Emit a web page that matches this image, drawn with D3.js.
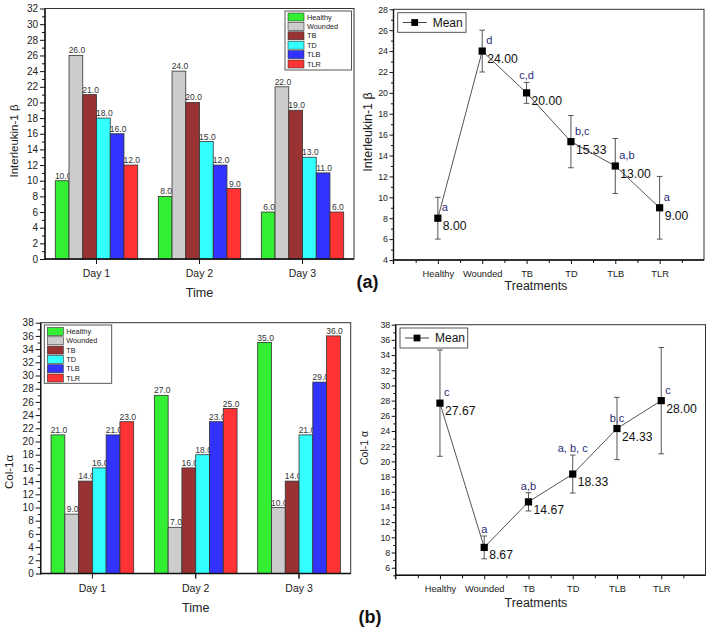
<!DOCTYPE html>
<html><head><meta charset="utf-8">
<script src="https://cdn.jsdelivr.net/npm/d3@7"></script>
<style>
body{margin:0;background:#fff}
svg{display:block}
text{font-family:"Liberation Sans",Arial,sans-serif}
</style></head><body>
<svg id="c" width="708" height="628"></svg>
<script>
// ---------- data ----------
const days = ["Day 1", "Day 2", "Day 3"];
const groupNames = ["Healthy", "Wounded", "TB", "TD", "TLB", "TLR"];
const groupColors = ["#33ee33", "#cccccc", "#993333", "#33ffff", "#3333ff", "#ff3333"];

const ilHealthy = [10, 8, 6];
const ilWounded = [26, 24, 22];
const ilTB = [21, 20, 19];
const ilTD = [18, 15, 13];
const ilTLB = [16, 12, 11];
const ilTLR = [12, 9, 6];

const colHealthy = [21, 27, 35];
const colWounded = [9, 7, 10];
const colTB = [14, 16, 14];
const colTD = [16, 18, 21];
const colTLB = [21, 23, 29];
const colTLR = [23, 25, 36];

const treatments = ["Healthy", "Wounded", "TB", "TD", "TLB", "TLR"];
const ilMean = [8.00, 24.00, 20.00, 15.33, 13.00, 9.00];
const ilErr = [2, 2, 1, 2.5, 2.63, 3];
const ilLetters = ["a", "d", "c,d", "b,c", "a,b", "a"];
const ilLetterPlace = ["side", "side", "top", "side", "side", "side"];

const colMean = [27.67, 8.67, 14.67, 18.33, 24.33, 28.00];
const colErr = [7, 1.5, 1.2, 2.5, 4.1, 7];
const colLetters = ["c", "a", "a,b", "a, b, c", "b,c", "c"];
const colLetterPlace = ["side", "top", "top", "top", "center", "side"];

const FONT = "Liberation Sans, Arial, sans-serif";
const svg = d3.select("#c");

function styleAxis(s, size) {
  s.attr("font-family", FONT).attr("font-size", size);
  s.select(".domain").remove();
  s.selectAll(".tick line").attr("stroke", "#111").attr("stroke-width", 1);
  s.selectAll(".tick text").attr("fill", "#222");
}

// ---------- grouped bar chart ----------
function barChart(o) {
  const x0 = d3.scaleBand().domain(days).range([o.left, o.right]);
  const x1 = d3.scaleBand().domain(groupNames)
    .range([x0.bandwidth() * 0.1, x0.bandwidth() * 0.9]);
  const y = d3.scaleLinear().domain([0, o.ymax]).range([o.bottom, o.top]);
  const g = svg.append("g");

  // frame
  g.append("rect").attr("x", o.left).attr("y", o.top)
    .attr("width", o.right - o.left).attr("height", o.bottom - o.top)
    .attr("fill", "none").attr("stroke", "#333").attr("stroke-width", 1);

  o.series.forEach((vals, si) => {
    g.append("g").selectAll("rect").data(vals).join("rect")
      .attr("x", (v, i) => x0(days[i]) + x1(groupNames[si]))
      .attr("y", v => y(v))
      .attr("width", x1.bandwidth())
      .attr("height", v => y(0) - y(v))
      .attr("fill", groupColors[si]).attr("stroke", "#333").attr("stroke-width", 0.8);
    g.append("g").selectAll("text").data(vals).join("text")
      .attr("x", (v, i) => x0(days[i]) + x1(groupNames[si]) + x1.bandwidth() / 2 + 1)
      .attr("y", v => y(v) - 2)
      .attr("text-anchor", "middle").attr("font-size", 8.5).attr("fill", "#333")
      .text(v => d3.format(".1f")(v));
  });

  // y axis
  g.append("g").attr("transform", `translate(${o.left},0)`)
    .call(d3.axisLeft(y).tickValues(d3.range(0, o.ymax + 1, 2)).tickSize(5).tickPadding(2))
    .call(s => styleAxis(s, 10));
  g.append("g").attr("transform", `translate(${o.left},0)`)
    .call(d3.axisLeft(y).tickValues(d3.range(1, o.ymax, 2)).tickSize(3).tickFormat(""))
    .call(s => styleAxis(s, 10));
  // x axis
  g.append("g").attr("transform", `translate(0,${o.bottom})`)
    .call(d3.axisBottom(x0).tickSize(5).tickPadding(o.xPad))
    .call(s => styleAxis(s, 10.5));
  g.append("g").attr("transform", `translate(0,${o.bottom})`)
    .call(d3.axisBottom(x0).tickValues(days.slice(1)).tickSize(5).tickFormat("")
      .offset(-x0.bandwidth() / 2))
    .call(s => styleAxis(s, 10));
  // axis lines
  g.append("line").attr("x1", o.left).attr("x2", o.left).attr("y1", o.top).attr("y2", o.bottom + 1)
    .attr("stroke", "#111").attr("stroke-width", 1.4);
  g.append("line").attr("x1", o.left).attr("x2", o.right).attr("y1", o.bottom).attr("y2", o.bottom)
    .attr("stroke", "#111").attr("stroke-width", 1.4);

  // labels
  g.append("text").attr("transform", `translate(${o.yLabelX},${o.yLabelY}) rotate(-90)`)
    .attr("text-anchor", "middle").attr("font-size", o.yLabelSize).attr("fill", "#222").text(o.yLabel);
  g.append("text").attr("x", (o.left + o.right) / 2).attr("y", o.timeY)
    .attr("text-anchor", "middle").attr("font-size", 12.5).attr("fill", "#222").text("Time");

  // legend
  const L = o.legend;
  g.append("rect").attr("x", L.x).attr("y", L.y).attr("width", L.w).attr("height", L.h)
    .attr("fill", "#fff").attr("stroke", "#444").attr("stroke-width", 0.9);
  groupNames.forEach((n, i) => {
    const cy = L.y + L.first + i * L.pitch;
    g.append("rect").attr("x", L.x + 3).attr("y", cy - 4).attr("width", 16).attr("height", 8)
      .attr("fill", groupColors[i]).attr("stroke", "#333").attr("stroke-width", 0.6);
    g.append("text").attr("x", L.x + 22).attr("y", cy + 2.6).attr("font-size", 7.3)
      .attr("fill", "#222").text(n);
  });
}

// ---------- mean line chart ----------
function lineChart(o) {
  const x = d3.scaleLinear().domain([0, 7]).range([o.left, o.right]);
  const y = d3.scaleLinear().domain([o.ymin, o.ymax]).range([o.bottom, o.top]);
  const g = svg.append("g");
  g.append("rect").attr("x", o.left).attr("y", o.top)
    .attr("width", o.right - o.left).attr("height", o.bottom - o.top)
    .attr("fill", "none").attr("stroke", "#333").attr("stroke-width", 1);

  const firstMajor = Math.ceil(o.ymin / 2) * 2;
  g.append("g").attr("transform", `translate(${o.left},0)`)
    .call(d3.axisLeft(y).tickValues(d3.range(firstMajor, o.ymax + 1, 2)).tickSize(4).tickPadding(1.5))
    .call(s => styleAxis(s, 8.8));
  g.append("g").attr("transform", `translate(${o.left},0)`)
    .call(d3.axisLeft(y).tickValues(d3.range(o.ymin, o.ymax + 1, 1).filter(v => v % 2 !== 0)).tickSize(2.5).tickFormat(""))
    .call(s => styleAxis(s, 8.8));
  g.append("g").attr("transform", `translate(0,${o.bottom})`)
    .call(d3.axisBottom(x).tickValues(d3.range(1, 7)).tickSize(4).tickPadding(o.xPad)
      .tickFormat(i => treatments[i - 1]))
    .call(s => styleAxis(s, 9.3));
  g.append("g").attr("transform", `translate(0,${o.bottom})`)
    .call(d3.axisBottom(x).tickValues(d3.range(0.5, 7, 1)).tickSize(3).tickFormat(""))
    .call(s => styleAxis(s, 9));
  g.append("line").attr("x1", o.left).attr("x2", o.left).attr("y1", o.top).attr("y2", o.bottom + 4)
    .attr("stroke", "#111").attr("stroke-width", 1.4);
  g.append("line").attr("x1", o.left).attr("x2", o.right).attr("y1", o.bottom).attr("y2", o.bottom)
    .attr("stroke", "#111").attr("stroke-width", 1.4);

  const pts = o.mean.map((m, i) => ({ x: x(i + 1), y: y(m), m, e: o.err[i], lt: o.letters[i], pl: o.place[i] }));
  // connecting line
  g.append("path").datum(pts)
    .attr("d", d3.line().x(d => d.x).y(d => d.y))
    .attr("fill", "none").attr("stroke", "#555").attr("stroke-width", 1);
  // error bars
  pts.forEach(p => {
    const t = y(p.m + p.e), b = y(p.m - p.e);
    g.append("line").attr("x1", p.x).attr("x2", p.x).attr("y1", t).attr("y2", b).attr("stroke", "#555").attr("stroke-width", 1);
    [t, b].forEach(yy => g.append("line").attr("x1", p.x - 2.8).attr("x2", p.x + 2.8)
      .attr("y1", yy).attr("y2", yy).attr("stroke", "#555").attr("stroke-width", 1));
  });
  // markers
  g.selectAll(null).data(pts).join("rect")
    .attr("x", d => d.x - 3.6).attr("y", d => d.y - 3.6).attr("width", 7.2).attr("height", 7.2)
    .attr("fill", "#000");
  // value labels
  g.selectAll(null).data(pts).join("text")
    .attr("x", d => d.x + 5).attr("y", d => d.y + 12)
    .attr("font-size", 12.2).attr("fill", "#111").text(d => d3.format(".2f")(d.m));
  // significance letters
  pts.forEach(p => {
    const t = g.append("text").attr("font-size", 11).attr("fill", "#2a2a78").text(p.lt);
    if (p.pl === "side") t.attr("x", p.x + 4).attr("y", p.y - 7);
    else if (p.pl === "top") t.attr("x", p.x).attr("y", y(p.m + p.e) - 3).attr("text-anchor", "middle");
    else t.attr("x", p.x).attr("y", p.y - 7).attr("text-anchor", "middle");
  });

  // legend
  const L = o.legend;
  g.append("rect").attr("x", L.x).attr("y", L.y).attr("width", L.w).attr("height", L.h)
    .attr("fill", "#fff").attr("stroke", "#444").attr("stroke-width", 0.9);
  const cy = L.y + L.h / 2;
  g.append("line").attr("x1", L.x + 5).attr("x2", L.x + 29).attr("y1", cy).attr("y2", cy)
    .attr("stroke", "#444").attr("stroke-width", 1);
  g.append("rect").attr("x", L.x + 17 - 3.4).attr("y", cy - 3.4).attr("width", 6.8).attr("height", 6.8).attr("fill", "#000");
  g.append("text").attr("x", L.x + 35).attr("y", cy + 4.3).attr("font-size", 12).attr("fill", "#111").text("Mean");

  // axis titles
  g.append("text").attr("transform", `translate(${o.yLabelX},${o.yLabelY}) rotate(-90)`)
    .attr("text-anchor", "middle").attr("font-size", o.yLabelSize).attr("fill", "#222").text(o.yLabel);
  g.append("text").attr("x", 536).attr("y", o.titleY)
    .attr("text-anchor", "middle").attr("font-size", 12.5).attr("fill", "#222").text("Treatments");
}

barChart({
  left: 45, right: 354, top: 8.5, bottom: 259, ymax: 32, xPad: 5.5,
  series: [ilHealthy, ilWounded, ilTB, ilTD, ilTLB, ilTLR],
  yLabel: "Interleukin-1 β", yLabelX: 17.5, yLabelY: 141, yLabelSize: 11.5, timeY: 297,
  legend: { x: 285, y: 11, w: 66.5, h: 59, first: 6, pitch: 9.4 }
});
barChart({
  left: 40.7, right: 350.7, top: 322.7, bottom: 573.5, ymax: 38, xPad: 6,
  series: [colHealthy, colWounded, colTB, colTD, colTLB, colTLR],
  yLabel: "Col-1α", yLabelX: 13, yLabelY: 472, yLabelSize: 11.5, timeY: 612,
  legend: { x: 44.3, y: 325, w: 67.4, h: 58.3, first: 6.5, pitch: 9.3 }
});
lineChart({
  left: 393.5, right: 704, top: 9.3, bottom: 260, ymin: 4, ymax: 28, xPad: 6.2,
  mean: ilMean, err: ilErr, letters: ilLetters, place: ilLetterPlace,
  yLabel: "Interleukin-1 β", yLabelX: 371.5, yLabelY: 132, yLabelSize: 12.5, titleY: 290,
  legend: { x: 397.7, y: 12.7, w: 68.3, h: 19.6 }
});
lineChart({
  left: 395.7, right: 705.5, top: 324.7, bottom: 575.3, ymin: 5, ymax: 38, xPad: 6,
  mean: colMean, err: colErr, letters: colLetters, place: colLetterPlace,
  yLabel: "Col-1 α", yLabelX: 368, yLabelY: 448, yLabelSize: 10.5, titleY: 607,
  legend: { x: 400, y: 328, w: 67.7, h: 20 }
});

// panel tags
svg.append("text").attr("x", 356.5).attr("y", 288).attr("font-family", "Liberation Serif, Times New Roman, serif")
  .attr("font-weight", "bold").attr("font-size", 18).attr("fill", "#111").text("(a)");
svg.append("text").attr("x", 358.5).attr("y", 622.5).attr("font-family", "Liberation Serif, Times New Roman, serif")
  .attr("font-weight", "bold").attr("font-size", 18).attr("fill", "#111").text("(b)");
</script>
</body></html>
